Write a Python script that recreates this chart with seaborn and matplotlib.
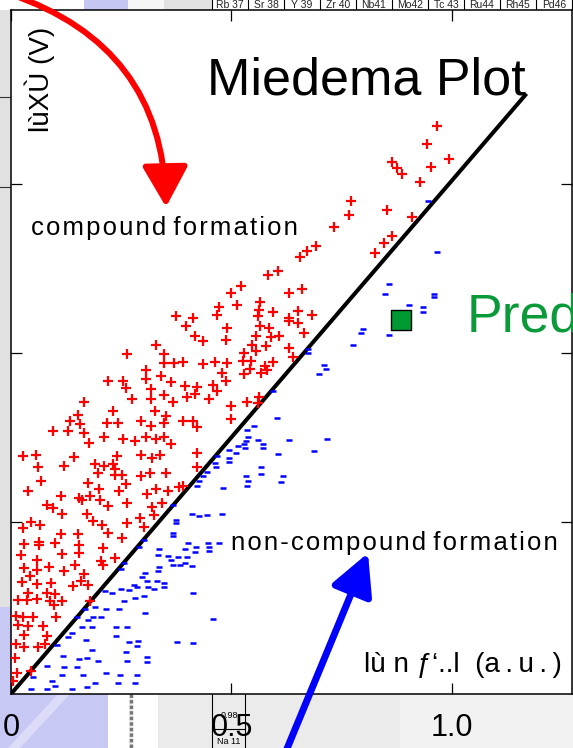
import matplotlib
matplotlib.use("Agg")
import matplotlib.pyplot as plt
from matplotlib.patches import Rectangle, Polygon, FancyArrowPatch
from matplotlib.lines import Line2D
import seaborn as sns

# ---- compound-forming pairs (red +) ----
compound_x = [
    0.045, 0.027, 0.066, 0.115, 0.173, 0.185, 0.206, 0.221, 0.262, 0.293, 0.302, 0.324,
    0.113, 0.153, 0.100, 0.064, 0.064, 0.029, 0.154, 0.209, 0.251, 0.022, 0.115, 0.155,
    0.058, 0.203, 0.236, 0.208, 0.029, 0.087, 0.145, 0.060, 0.120, 0.043, 0.166, 0.158,
    0.024, 0.058, 0.090, 0.141, 0.175, 0.039, 0.082, 0.100, 0.017, 0.037, 0.058, 0.088,
    0.115, 0.179, 0.098, 0.011, 0.028, 0.049, 0.102, 0.017, 0.039, 0.072, 0.029, 0.081,
    0.011, 0.029, 0.062, 0.077, 0.009, 0.013, 0.045, 0.004,
    0.397, 0.329, 0.262, 0.348, 0.348, 0.370, 0.391, 0.305, 0.219, 0.255, 0.305, 0.340,
    0.363, 0.395, 0.261, 0.317, 0.347, 0.274, 0.317, 0.367, 0.398, 0.166, 0.231, 0.327,
    0.351, 0.153, 0.134, 0.156, 0.217, 0.242, 0.295, 0.317, 0.347, 0.389, 0.096, 0.130,
    0.166, 0.211, 0.255, 0.281, 0.305, 0.328, 0.347, 0.363, 0.178, 0.027, 0.056, 0.143,
    0.240, 0.295, 0.319, 0.339, 0.062, 0.121, 0.190, 0.211, 0.231, 0.236, 0.197, 0.236,
    0.252, 0.295, 0.315, 0.351, 0.067, 0.174, 0.261, 0.038, 0.113, 0.154, 0.179, 0.200,
    0.245, 0.308, 0.328, 0.357, 0.381, 0.389, 0.081, 0.096, 0.160, 0.202, 0.221, 0.264,
    0.319, 0.342,
    0.490, 0.565, 0.586, 0.630, 0.651, 0.417, 0.436, 0.488, 0.556, 0.590, 0.608, 0.664,
    0.546, 0.556, 0.578, 0.528, 0.630, 0.640, 0.435, 0.463, 0.490, 0.525, 0.544, 0.593,
    0.542, 0.576, 0.581, 0.566, 0.478, 0.528, 0.488, 0.421, 0.457, 0.468, 0.417, 0.450,
    0.498, 0.536, 0.563, 0.561, 0.412, 0.422, 0.498, 0.422, 0.421,
    0.770, 0.766, 0.732, 0.692, 0.671, 0.655, 0.825, 0.606, 0.583, 0.521, 0.498, 0.472,
    0.468, 0.512, 0.565, 0.563, 0.561, 0.595, 0.631, 0.659, 0.651, 0.682, 0.631, 0.412,
    0.374,
    0.967, 0.944, 0.863, 0.876, 0.887, 0.993, 0.952, 0.927, 0.852, 0.909, 0.863, 0.846,
]
compound_y = [
    0.501, 0.481, 0.491, 0.524, 0.524, 0.504, 0.491, 0.468, 0.498, 0.511, 0.486, 0.521,
    0.464, 0.464, 0.439, 0.442, 0.432, 0.435, 0.432, 0.422, 0.452, 0.402, 0.405, 0.407,
    0.388, 0.386, 0.393, 0.373, 0.363, 0.368, 0.373, 0.358, 0.356, 0.340, 0.346, 0.326,
    0.323, 0.317, 0.320, 0.311, 0.314, 0.291, 0.291, 0.287, 0.269, 0.269, 0.271, 0.267,
    0.267, 0.267, 0.254, 0.222, 0.218, 0.220, 0.220, 0.195, 0.192, 0.192, 0.166, 0.163,
    0.139, 0.129, 0.129, 0.139, 0.097, 0.052, 0.060, 0.030,
    1.080, 1.024, 0.997, 0.997, 0.971, 0.971, 0.974, 0.950, 0.918, 0.918, 0.922, 0.932,
    0.915, 0.902, 0.896, 0.893, 0.876, 0.863, 0.863, 0.854, 0.869, 0.856, 0.829, 0.829,
    0.815, 0.817, 0.799, 0.790, 0.792, 0.792, 0.799, 0.784, 0.792, 0.800, 0.769, 0.769,
    0.764, 0.752, 0.745, 0.740, 0.751, 0.746, 0.751, 0.731, 0.733, 0.695, 0.698, 0.691,
    0.695, 0.698, 0.688, 0.698, 0.664, 0.667, 0.671, 0.667, 0.671, 0.656, 0.646, 0.639,
    0.639, 0.636, 0.646, 0.644, 0.622, 0.614, 0.612, 0.593, 0.577, 0.570, 0.577, 0.597,
    0.593, 0.583, 0.597, 0.593, 0.604, 0.607, 0.550, 0.541, 0.565, 0.565, 0.547, 0.557,
    0.543, 0.557,
    1.073, 1.080, 1.073, 1.096, 1.090, 1.050, 1.036, 1.038, 1.050, 1.046, 1.050, 1.058,
    1.024, 1.007, 1.021, 1.001, 1.014, 0.989, 0.967, 0.974, 0.971, 0.977, 0.977, 0.974,
    0.952, 0.962, 0.950, 0.942, 0.940, 0.938, 0.918, 0.899, 0.905, 0.888, 0.879, 0.863,
    0.843, 0.856, 0.869, 0.853, 0.800, 0.780, 0.804, 0.703, 0.664,
    1.451, 1.408, 1.372, 1.317, 1.303, 1.283, 1.297, 1.243, 1.231, 1.198, 1.178, 1.137,
    1.112, 1.142, 1.152, 1.127, 1.109, 1.122, 1.177, 1.188, 1.125, 1.112, 1.103, 1.103,
    1.109,
    1.672, 1.618, 1.566, 1.546, 1.530, 1.573, 1.549, 1.507, 1.423, 1.401, 1.346, 1.325,
]

# ---- non-compound-forming pairs (blue -) ----
noncompound_x = [
    0.374, 0.374, 0.368, 0.368, 0.302, 0.291, 0.336, 0.334, 0.357, 0.362, 0.379, 0.398,
    0.395, 0.402, 0.335, 0.333, 0.368, 0.383, 0.395, 0.250, 0.256, 0.304, 0.296, 0.308,
    0.330, 0.347, 0.279, 0.286, 0.311, 0.324, 0.268, 0.249, 0.347, 0.213, 0.228, 0.302,
    0.281, 0.256, 0.190, 0.215, 0.246, 0.304, 0.168, 0.150, 0.175, 0.185, 0.203, 0.138,
    0.160, 0.183, 0.238, 0.262, 0.238, 0.130, 0.170, 0.268, 0.289, 0.286, 0.376, 0.105,
    0.117, 0.155, 0.173, 0.183, 0.198, 0.261, 0.262, 0.309, 0.309, 0.082, 0.120, 0.150,
    0.115, 0.163, 0.215, 0.247, 0.286, 0.051, 0.092, 0.100, 0.190, 0.243, 0.281, 0.045,
    0.081, 0.138, 0.173, 0.368, 0.410,
    0.799, 0.793, 0.776, 0.674, 0.674, 0.710, 0.714, 0.699, 0.595, 0.604, 0.551, 0.536,
    0.538, 0.534, 0.528, 0.531, 0.515, 0.510, 0.561, 0.571, 0.571, 0.631, 0.716, 0.687,
    0.606, 0.495, 0.495, 0.495, 0.466, 0.463, 0.465, 0.445, 0.435, 0.427, 0.422, 0.481,
    0.566, 0.566, 0.534, 0.538, 0.536, 0.616, 0.612,
    0.427, 0.444, 0.478, 0.420, 0.417, 0.447, 0.450, 0.450, 0.472, 0.410, 0.412, 0.459,
    0.412,
    0.946, 0.967, 0.858, 0.848, 0.959, 0.959, 0.903, 0.934, 0.934, 0.858,
]
noncompound_y = [
    0.507, 0.496, 0.468, 0.459, 0.447, 0.425, 0.419, 0.402, 0.399, 0.388, 0.396, 0.397,
    0.419, 0.437, 0.366, 0.356, 0.373, 0.373, 0.380, 0.362, 0.378, 0.348, 0.338, 0.326,
    0.326, 0.320, 0.314, 0.307, 0.307, 0.301, 0.299, 0.303, 0.309, 0.297, 0.291, 0.281,
    0.274, 0.267, 0.249, 0.243, 0.243, 0.232, 0.243, 0.218, 0.210, 0.218, 0.218, 0.171,
    0.190, 0.190, 0.190, 0.190, 0.163, 0.159, 0.151, 0.146, 0.149, 0.133, 0.146, 0.136,
    0.104, 0.094, 0.097, 0.121, 0.090, 0.116, 0.090, 0.100, 0.087, 0.074, 0.070, 0.072,
    0.047, 0.047, 0.052, 0.047, 0.047, 0.041, 0.028, 0.015, 0.023, 0.023, 0.023, 0.005,
    0.005, 0.005, 0.011, 0.550, 0.524,
    1.070, 1.060, 1.024, 1.011, 0.999, 0.964, 0.952, 0.938, 0.888, 0.807, 0.784, 0.772,
    0.751, 0.741, 0.731, 0.718, 0.725, 0.705, 0.743, 0.731, 0.718, 0.743, 0.745, 0.710,
    0.700, 0.713, 0.688, 0.678, 0.695, 0.675, 0.664, 0.649, 0.636, 0.621, 0.607, 0.600,
    0.662, 0.642, 0.636, 0.622, 0.607, 0.636, 0.619,
    0.518, 0.521, 0.524, 0.425, 0.412, 0.439, 0.427, 0.415, 0.437, 0.370, 0.291, 0.212,
    0.141,
    1.451, 1.300, 1.204, 1.175, 1.175, 1.165, 1.142, 1.135, 1.122, 1.053,
]

# dividing line between the two regions
boundary_x = [0.0, 1.166]
boundary_y = [-0.009, 1.763]

# predicted pair
predicted_x = [0.884]
predicted_y = [1.098]

x_ticks = [0.0, 0.5, 1.0]
x_tick_labels = ["0", "0.5", "1.0"]
y_ticks = [0.5, 1.0, 1.5]

table_cells = ["Rb 37", "Sr 38", "Y 39", "Zr 40", "Nb41", "Mo42", "Tc 43", "Ru44", "Rh45", "Pd46", "Ag47"]

W, H = 573, 748
REG = ["Liberation Sans", "DejaVu Sans"]
plt.rcParams["font.family"] = REG

fig = plt.figure(figsize=(W / 100, H / 100), dpi=100)
fig.patch.set_facecolor("#ededed")


def fx(px):
    return px / W


def fy(py):
    return 1 - py / H


def backdrop(x0, y0, x1, y1, color):
    fig.add_artist(Rectangle((fx(x0), fy(y1)), fx(x1) - fx(x0), fy(y0) - fy(y1),
                             transform=fig.transFigure, facecolor=color,
                             edgecolor="none", zorder=-10))


def hline(x0, x1, y, color="black", lw=0.8):
    fig.add_artist(Line2D([fx(x0), fx(x1)], [fy(y), fy(y)], transform=fig.transFigure,
                          color=color, lw=lw, zorder=-9))


def vline(x, y0, y1, color="black", lw=0.8, ls="-"):
    fig.add_artist(Line2D([fx(x), fx(x)], [fy(y0), fy(y1)], transform=fig.transFigure,
                          color=color, lw=lw, ls=ls, zorder=-9))


# slide backdrop around the chart
backdrop(0, 0, 84, 10, "white")
backdrop(84, 0, 128, 10, "#c6c6f2")
backdrop(128, 0, 164, 10, "#f6f6f6")
backdrop(164, 0, 212, 10, "#e2e2e2")
backdrop(212, 0, W, 10, "white")
cell_w = 36
for i, lab in enumerate(table_cells):
    x0 = 212 + i * cell_w
    vline(x0, 0, 10, lw=0.8)
    fig.text(fx(x0 + cell_w / 2), fy(4.5), lab, ha="center", va="center",
             fontsize=7.5, color="#222222", zorder=-8)
backdrop(0, 10, 11, 607, "#e1e1e1")
backdrop(0, 607, 11, 694, "#c8c8f4")
hline(0, 11, 97, color="#333333")
hline(0, 11, 187, color="#333333")
backdrop(0, 694, 108, H, "#c8c8f4")
fig.add_artist(Polygon([(fx(58), fy(694)), (fx(70), fy(694)), (fx(20), fy(H)), (fx(8), fy(H))],
                       closed=True, transform=fig.transFigure, facecolor="#dcdcf8",
                       edgecolor="none", zorder=-9))
backdrop(108, 694, 129, H, "white")
vline(131, 694, H, color="#777777", lw=2.5, ls=(0, (1, 0.6)))
backdrop(133, 694, 158, H, "white")
backdrop(158, 694, 400, H, "#ebebeb")
backdrop(400, 694, W, H, "#f2f2f2")
vline(212, 694, H, lw=0.8)
vline(245, 694, H, lw=0.8)
hline(212, 245, 729, lw=0.8)
fig.text(fx(229), fy(715), "0.98", ha="center", va="center", fontsize=6.5, zorder=-8)
fig.text(fx(229), fy(741), "Na 11", ha="center", va="center", fontsize=6.5, zorder=-8)

# chart area
ax = fig.add_axes([fx(11), fy(694), fx(572) - fx(11), fy(10) - fy(694)])
ax.set_facecolor("white")

sns.lineplot(x=boundary_x, y=boundary_y, color="black", linewidth=2.9, ax=ax, zorder=2)
sns.scatterplot(x=compound_x, y=compound_y, marker="+", color="#ff0000", s=50,
                linewidth=1.6, ax=ax, zorder=3)
sns.scatterplot(x=noncompound_x, y=noncompound_y, marker="_", color="#0000ff", s=18,
                linewidth=1.8, ax=ax, zorder=3)
sns.scatterplot(x=predicted_x, y=predicted_y, marker="s", s=225, color="#009933",
                edgecolor="black", linewidth=1.0, ax=ax, zorder=4)

ax.set_xlim(0, 561 / 441)
ax.set_ylim(-0.009, 2.015)
ax.set_xticks(x_ticks, labels=x_tick_labels, fontsize=22)
ax.set_yticks(y_ticks)
ax.tick_params(axis="both", direction="in", length=8, width=0.9, top=True, right=True,
               bottom=True, left=True, labelleft=False, colors="black")
ax.tick_params(axis="x", pad=14)
for s in ax.spines.values():
    s.set_linewidth(1.1)
    s.set_color("black")
ax.set_xlabel("")
ax.set_ylabel("")


def spaced(s):
    return "\u200a".join(s)


ax.text(0.0357, 0.671, spaced("compound") + " " + spaced("formation"),
        transform=ax.transAxes, ha="left", va="baseline", fontsize=18.5)
ax.text(0.393, 0.2105, spaced("non-compound") + " " + spaced("formation"),
        transform=ax.transAxes, ha="left", va="baseline", fontsize=18.5)
ax.text(0.9817, 0.0326, "lù n ƒ‘..l  (a\u2009.\u2009u\u2009.\u2009)",
        transform=ax.transAxes, ha="right", va="baseline", fontsize=20)
ax.text(0.0517, 0.899, "lùXÙ (V)", transform=ax.transAxes, rotation=90,
        ha="center", va="center", fontsize=20)
ax.text(0.349, 0.877, "Miedema Plot", transform=ax.transAxes, ha="left",
        va="baseline", fontsize=37.5)
ax.text(0.813, 0.530, "Prediction", transform=ax.transAxes, ha="left",
        va="baseline", fontsize=38.5, color="#0a9a3a")

# pointer arrows
fig.add_artist(FancyArrowPatch((fx(10), fy(-6)), (fx(166), fy(207)),
                               transform=fig.transFigure,
                               connectionstyle="arc3,rad=-0.35",
                               arrowstyle="-|>,head_length=25,head_width=14",
                               color="#ff0000", linewidth=4.3, shrinkA=0, shrinkB=0,
                               mutation_scale=1, zorder=20))
fig.add_artist(FancyArrowPatch((fx(284), fy(756)), (fx(368), fy(553)),
                               transform=fig.transFigure,
                               arrowstyle="-|>,head_length=25,head_width=13",
                               color="#0000ff", linewidth=5, shrinkA=0, shrinkB=0,
                               mutation_scale=1, zorder=20))

fig.savefig("out.png", dpi=100, facecolor=fig.get_facecolor())
